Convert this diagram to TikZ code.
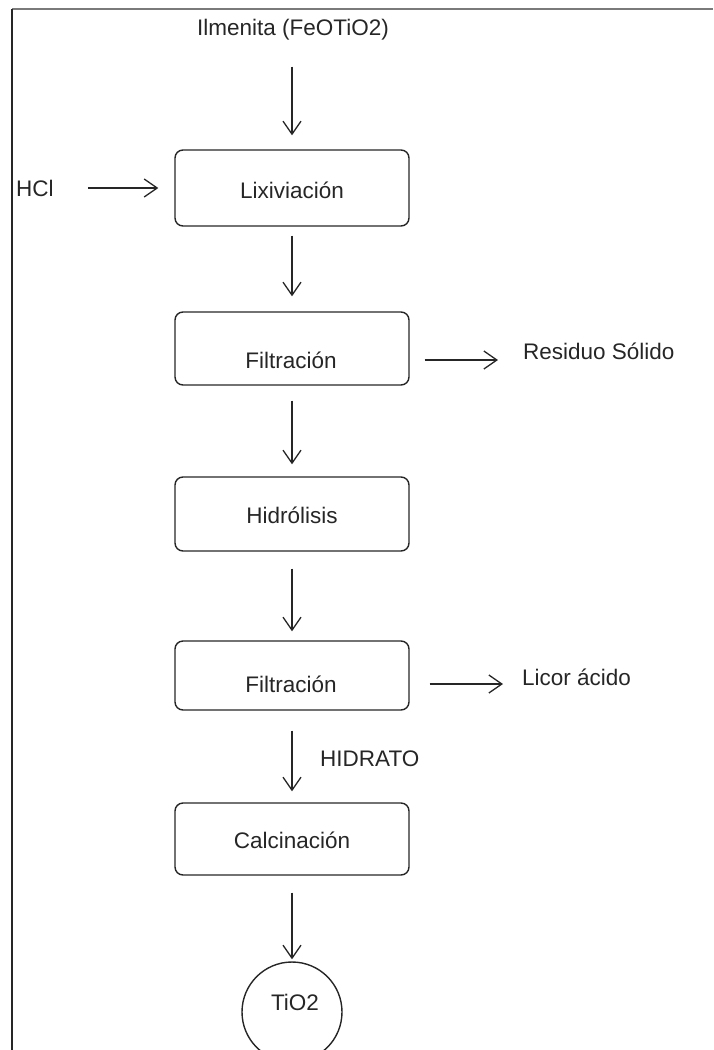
\documentclass[tikz,border=0pt]{standalone}
\usepackage{fontspec}
\setmainfont{Liberation Sans}
\usetikzlibrary{arrows.meta,calc}
\definecolor{ink}{HTML}{262626}
\definecolor{frame}{HTML}{7A7A7A}
\tikzset{
  lbl/.style={inner sep=0pt, text=ink, font=\fontsize{22.5}{26}\selectfont},
  stage/.style={draw=ink, line width=1.4pt, rounded corners=8pt,
    minimum width=234pt, minimum height=#1, inner sep=0pt},
  flow/.style={draw=ink, line width=1.3pt,
    -{Straight Barb[length=13pt,width=18pt,line width=1.3pt]}},
}
\begin{document}
\begin{tikzpicture}[x=1pt,y=-1pt]
\useasboundingbox (0,0) rectangle (713,1050);
\clip (0,0) rectangle (713,1050);

% page frame: top and left rules
\draw[frame, line width=2pt] (12,9) -- (713,9);
\draw[ink, line width=2pt] (12,9) -- (12,1050);

% process stages
\node[stage=76pt] (lix)  at (292,188) {};
\node[stage=73pt] (fil1) at (292,348.5) {};
\node[stage=74pt] (hid)  at (292,514) {};
\node[stage=69pt] (fil2) at (292,675.5) {};
\node[stage=72pt] (calc) at (292,839) {};
\node[draw=ink, line width=1.4pt, circle, minimum size=100pt, inner sep=0pt] (tio) at (292,1012) {};

% labels
\node[lbl] (ilm)   at (293,30)  {Ilmenita (FeOTiO2)};
\node[lbl, anchor=west] (hcl) at (16,188) {HCl};
\node[lbl] (lixt)  at (292,190) {Lixiviación};
\node[lbl] (fil1t) at (291,360) {Filtración};
\node[lbl, anchor=west] (res) at (523,351) {Residuo Sólido};
\node[lbl] (hidt)  at (292,515) {Hidrólisis};
\node[lbl] (fil2t) at (291,684) {Filtración};
\node[lbl, anchor=west] (lic) at (522,677) {Licor ácido};
\node[lbl, anchor=west] (hyd) at (320,759) {HIDRATO};
\node[lbl] (calct) at (292,840) {Calcinación};
\node[lbl] (tiot)  at (295,1002) {TiO2};

% main flow
\draw[flow, shorten <=26pt, shorten >=14pt] (ilm.south -| lix.north) -- (lix.north);
\draw[flow, shorten <=9pt,  shorten >=15pt] (lix.south) -- (fil1.north);
\draw[flow, shorten <=15pt, shorten >=12pt] (fil1.south) -- (hid.north);
\draw[flow, shorten <=17pt, shorten >=9pt]  (hid.south) -- (fil2.north);
\draw[flow, shorten <=20pt, shorten >=11pt] (fil2.south) -- (calc.north);
\draw[flow, shorten <=17pt, shorten >=2pt]  (calc.south) -- (tio.north);

% side streams
\draw[flow, shorten <=34pt, shorten >=16pt] (hcl.east) -- (hcl.east -| lix.west);
\draw[flow, shorten <=15pt, shorten >=25pt] (fil1t -| fil1.east) -- (fil1t -| res.west);
\draw[flow, shorten <=20pt, shorten >=19pt] (fil2t -| fil2.east) -- (fil2t -| lic.west);
\end{tikzpicture}
\end{document}
